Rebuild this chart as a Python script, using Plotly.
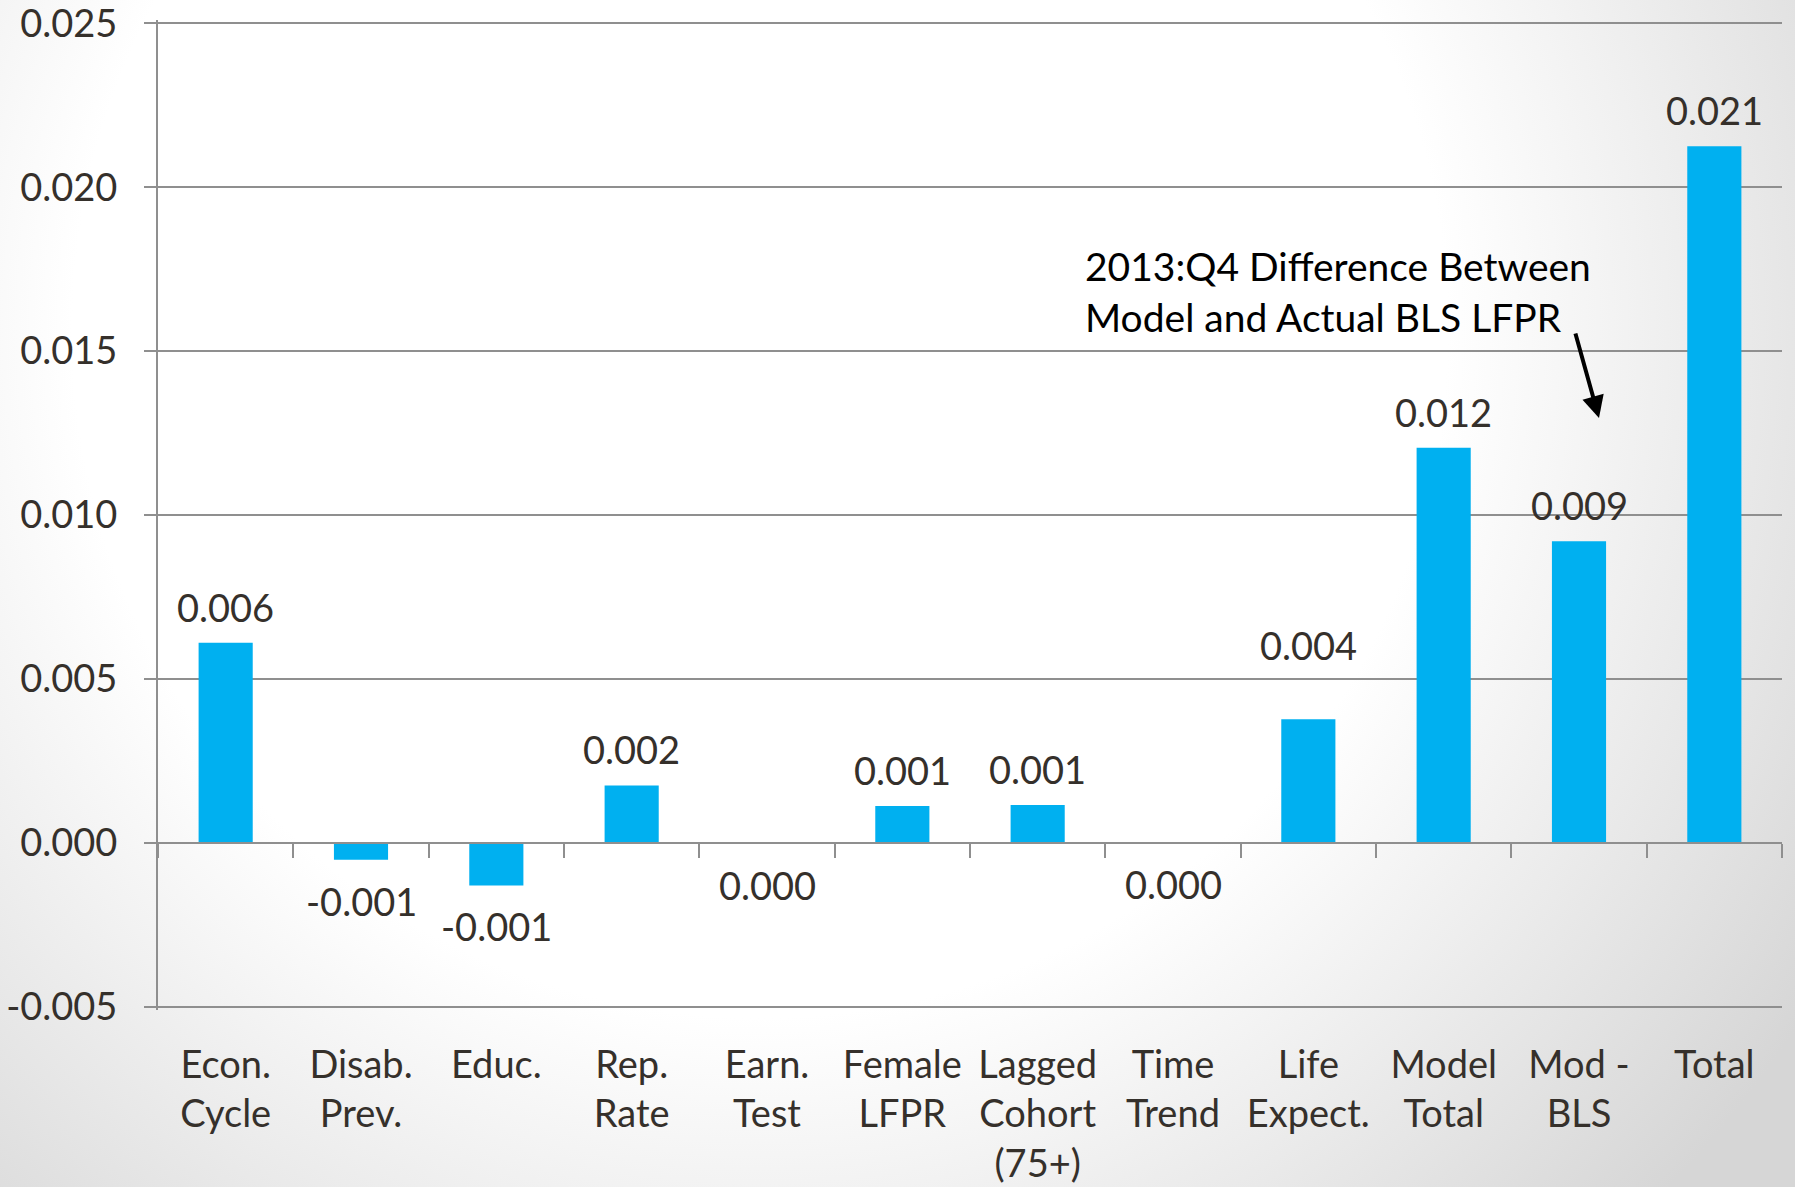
import base64
import plotly.graph_objects as go

# Contribution of each factor to the projected LFPR change
categories = [
    "Econ.<br>Cycle", "Disab.<br>Prev.", "Educ.", "Rep.<br>Rate", "Earn.<br>Test",
    "Female<br>LFPR", "Lagged<br>Cohort<br>(75+)", "Time<br>Trend", "Life<br>Expect.",
    "Model<br>Total", "Mod -<br>BLS", "Total",
]
values = [0.0061, -0.00052, -0.0013, 0.00175, -0.00003,
          0.00112, 0.00115, -0.00001, 0.00377, 0.01205, 0.0092, 0.02125]

y_tick_vals = [-0.005, 0.0, 0.005, 0.010, 0.015, 0.020, 0.025]
y_tick_text = ["-0.005", "0.000", "0.005", "0.010", "0.015", "0.020", "0.025"]

note_text = "2013:Q4 Difference Between<br>Model and Actual BLS LFPR"

W, H = 1795, 1187
L, R, T, B = 158, 13, 20, 177
PW, PH = W - L - R, H - T - B

Y_MIN, Y_MAX = -0.0051, 0.0251

FONT = "Lato"
TEXT = "#35302b"
GRID = "#8f8f8f"
BAR = "#00B0F0"

# extra lift for labels that sit clear of a gridline
label_lift = {"Life<br>Expect.": 38}


def paper(px, py):
    return (px - L) / PW, (H - B - py) / PH


# soft radial slide background
bg_svg = f"""<svg xmlns="http://www.w3.org/2000/svg" width="{W}" height="{H}">
<defs>
<radialGradient id="bg" gradientUnits="userSpaceOnUse" cx="760" cy="330" r="1250">
<stop offset="0" stop-color="#ffffff"/>
<stop offset="0.55" stop-color="#ffffff"/>
<stop offset="1" stop-color="#d6d6d6"/>
</radialGradient>
</defs>
<rect x="0" y="0" width="{W}" height="{H}" fill="url(#bg)"/>
</svg>"""
bg_uri = "data:image/svg+xml;base64," + base64.b64encode(bg_svg.encode()).decode()
x0, y0 = paper(0, 0)
x1, y1 = paper(W, H)

fig = go.Figure()
fig.add_trace(go.Bar(x=categories, y=values, marker=dict(color=BAR, line=dict(width=0)),
                     width=0.4, hoverinfo="skip", showlegend=False))
# carrier trace for the category axis drawn along y = 0
fig.add_trace(go.Scatter(x=categories, y=[0] * len(categories), xaxis="x2", mode="lines",
                         line=dict(width=0), opacity=0, hoverinfo="skip", showlegend=False))

annotations = []
for cat, v in zip(categories, values):
    shift = (36 + label_lift.get(cat, 0)) if v > 0 else -41
    annotations.append(dict(x=cat, y=v, xref="x", yref="y",
                            text=f"{v:.3f}".replace("-0.000", "0.000"),
                            showarrow=False, yanchor="middle", yshift=shift,
                            font=dict(family=FONT, size=38, color=TEXT)))

nx, ny = paper(1083, 291)
annotations.append(dict(x=nx, y=ny, xref="paper", yref="paper", text=note_text, showarrow=False,
                        xanchor="left", yanchor="middle", align="left",
                        font=dict(family=FONT, size=39, color="#000000")))
hx, hy = paper(1599, 418)
annotations.append(dict(x=hx, y=hy, xref="paper", yref="paper", text="", showarrow=True,
                        ax=-24, ay=-86, axref="pixel", ayref="pixel", arrowhead=2,
                        arrowsize=1.1, arrowwidth=4, arrowcolor="#000000"))

fig.update_layout(
    width=W, height=H,
    margin=dict(l=L, r=R, t=T, b=B, pad=0),
    paper_bgcolor="#ffffff", plot_bgcolor="rgba(0,0,0,0)",
    font=dict(family=FONT, size=38, color=TEXT),
    bargap=0.6,
    images=[dict(source=bg_uri, xref="paper", yref="paper", x=x0, y=y0,
                 sizex=x1 - x0, sizey=y0 - y1, xanchor="left", yanchor="top",
                 sizing="stretch", layer="below")],
    annotations=annotations,
    xaxis=dict(type="category", automargin=False, showline=False, showgrid=False,
               zeroline=False, ticks="", ticklabelstandoff=29, ticklabeloverflow="allow",
               tickfont=dict(family=FONT, size=38, color=TEXT),
               range=[-0.5, len(categories) - 0.5]),
    xaxis2=dict(type="category", overlaying="x", matches="x", anchor="free",
                position=(0 - Y_MIN) / (Y_MAX - Y_MIN),
                automargin=False, showline=True, linecolor=GRID, linewidth=2, showgrid=False,
                zeroline=False, ticks="outside", tickson="boundaries", ticklen=14, tickwidth=2,
                tickcolor=GRID, showticklabels=False),
    yaxis=dict(range=[Y_MIN, Y_MAX], tickvals=y_tick_vals, ticktext=y_tick_text,
               automargin=False, showline=True, linecolor=GRID, linewidth=2, showgrid=True,
               gridcolor=GRID, gridwidth=2, zeroline=False, ticks="outside", ticklen=12,
               tickwidth=2, tickcolor=GRID, ticklabelstandoff=19, ticklabeloverflow="allow",
               tickfont=dict(family=FONT, size=38, color=TEXT)),
)

fig.write_html("out.html")
